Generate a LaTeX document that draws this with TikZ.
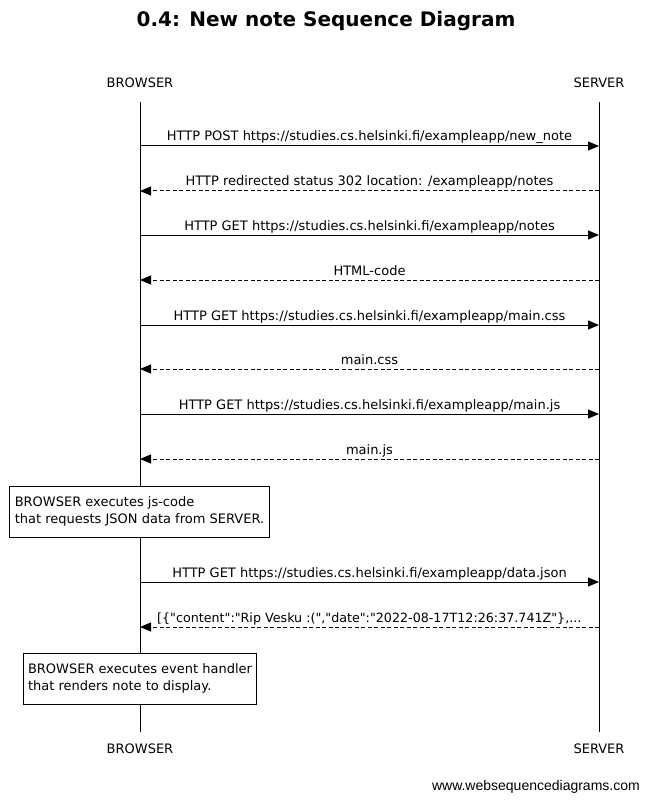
\documentclass[tikz,border=0pt]{standalone}
\usepackage{fontspec}
\setmainfont{DejaVu Sans}[Ligatures=TeXOff]
\newfontfamily\markfont{Liberation Sans}
\usetikzlibrary{arrows.meta}
\begin{document}
\begin{tikzpicture}[x=1pt,y=-1pt,
  lifeline/.style={line width=1pt},
  actor/.style={font=\fontsize{13}{15}\selectfont, inner sep=0pt},
  msg/.style={line width=1pt, -{Triangle[length=11pt,width=9pt]}},
  reply/.style={msg, dash pattern=on 4pt off 2.5pt},
  lbl/.style={font=\fontsize{13}{15}\selectfont, inner sep=0pt, anchor=base, yshift=5pt},
  notebox/.style={draw, fill=white, line width=1pt, align=left,
    font=\fontsize{13}{17}\selectfont, inner xsep=5pt, minimum height=51pt}]
  \useasboundingbox (0,0) rectangle (649,802);

  % title
  \node[font=\bfseries\fontsize{20}{24}\selectfont, inner sep=0pt] (title) at (326,21) {0.4: New note Sequence Diagram};

  % participants
  \node[actor] (bt) at (140,83) {BROWSER};
  \node[actor] (st) at (599,83) {SERVER};
  \node[actor] (bb) at (140,749) {BROWSER};
  \node[actor] (sb) at (599,749) {SERVER};
  \coordinate (btop) at (140,102);
  \coordinate (bbot) at (140,732);
  \coordinate (stop) at (599,102);
  \coordinate (sbot) at (599,732);
  \draw[lifeline] (btop) -- (bbot);
  \draw[lifeline] (stop) -- (sbot);

  % message end points on the lifelines
  \foreach \n/\y in {1/146,2/191,3/235,4/280,5/325,6/369,7/414,8/459,9/582,10/627}{
    \coordinate (b\n) at (140,\y);
    \coordinate (s\n) at (599,\y);
  }

  \draw[msg]   (b1) -- node[lbl] (l1) {HTTP POST https://studies.cs.helsinki.fi/exampleapp/new\_note} (s1);
  \draw[reply] (s2) -- node[lbl] (l2) {HTTP redirected status 302 location: /exampleapp/notes} (b2);
  \draw[msg]   (b3) -- node[lbl] (l3) {HTTP GET https://studies.cs.helsinki.fi/exampleapp/notes} (s3);
  \draw[reply] (s4) -- node[lbl] (l4) {HTML-code} (b4);
  \draw[msg]   (b5) -- node[lbl] (l5) {HTTP GET https://studies.cs.helsinki.fi/exampleapp/main.css} (s5);
  \draw[reply] (s6) -- node[lbl] (l6) {main.css} (b6);
  \draw[msg]   (b7) -- node[lbl] (l7) {HTTP GET https://studies.cs.helsinki.fi/exampleapp/main.js} (s7);
  \draw[reply] (s8) -- node[lbl] (l8) {main.js} (b8);

  \node[notebox] (n1) at (139.5,511.5) {BROWSER executes js-code\\that requests JSON data from SERVER.};

  \draw[msg]   (b9) -- node[lbl] (l9) {HTTP GET https://studies.cs.helsinki.fi/exampleapp/data.json} (s9);
  \draw[reply] (s10) -- (b10);
  \node[lbl, anchor=base west, font=\fontsize{12.7}{15}\selectfont] (l10) at (157,627) {[\{"content":"Rip Vesku :(","date":"2022-08-17T12:26:37.741Z"\},...};

  \node[notebox] (n2) at (140,678.5) {BROWSER executes event handler\\that renders note to display.};

  \node[font=\markfont\fontsize{14}{16}\selectfont, inner sep=0pt, anchor=east] (wm) at (640,787) {www.websequencediagrams.com};
\end{tikzpicture}
\end{document}
